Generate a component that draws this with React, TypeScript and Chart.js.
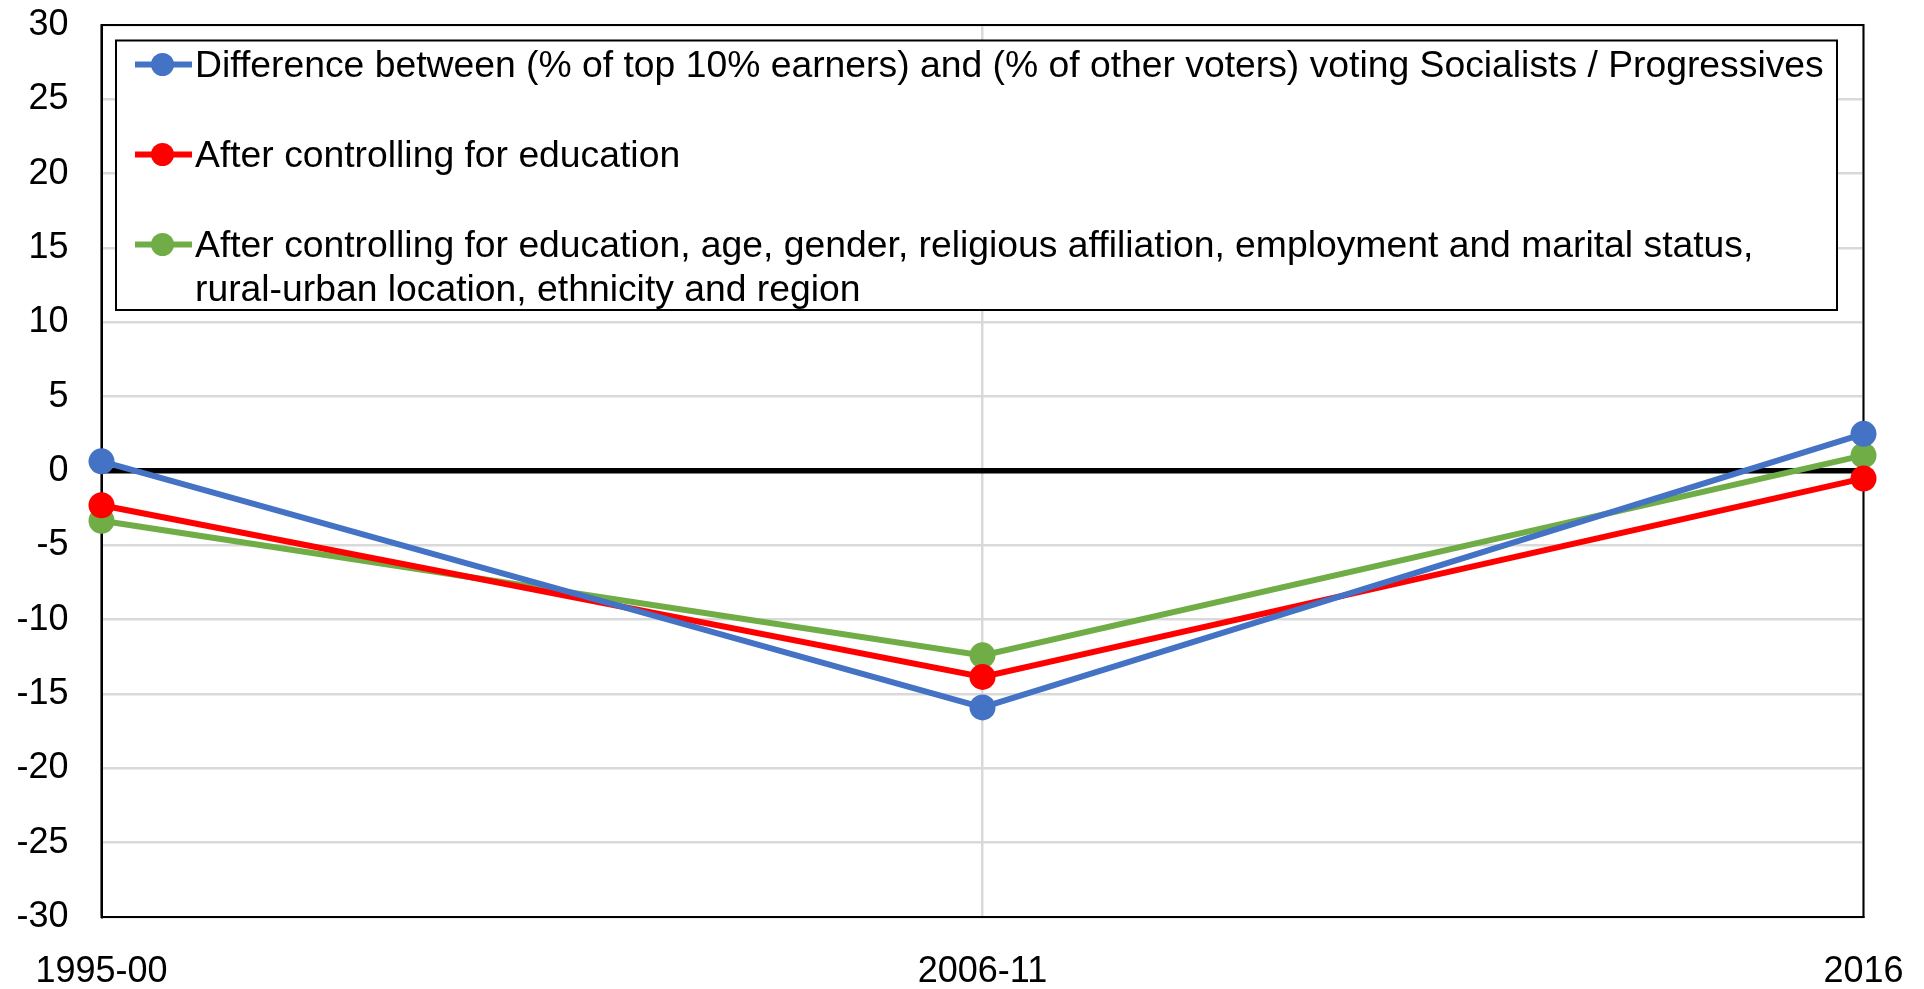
import React, { useEffect, useRef } from "react";
import { Chart, registerables } from "chart.js";

Chart.register(...registerables);

const categories = ["1995-00", "2006-11", "2016"];
const seriesNames = [
  "Difference between (% of top 10% earners) and (% of other voters) voting Socialists / Progressives",
  "After controlling for education",
  "After controlling for education, age, gender, religious affiliation, employment and marital status,\nrural-urban location, ethnicity and region",
];
const diffValues = [0.65, -15.9, 2.5];
const educationValues = [-2.3, -13.85, -0.5];
const fullControlValues = [-3.35, -12.4, 1.05];
const seriesColors = ["#4472C4", "#FF0000", "#70AD47"];
const yMin = -30;
const yMax = 30;
const yStep = 5;

const FONT = "'Liberation Sans', Arial, sans-serif";

const borderPlugin = {
  id: "plotBorder",
  beforeDatasetsDraw(chart: any) {
    const { ctx, chartArea } = chart;
    ctx.save();
    ctx.strokeStyle = "#000";
    ctx.lineWidth = 2;
    ctx.strokeRect(chartArea.left, chartArea.top, chartArea.right - chartArea.left, chartArea.bottom - chartArea.top);
    ctx.restore();
  },
};

const legendPlugin = {
  id: "boxLegend",
  afterDraw(chart: any) {
    const { ctx, chartArea } = chart;
    const x0 = chartArea.left + 14.5;
    const y0 = chartArea.top + 15.5;
    const w = 1721;
    const h = 269.5;
    ctx.save();
    ctx.fillStyle = "#fff";
    ctx.fillRect(x0, y0, w, h);
    ctx.strokeStyle = "#000";
    ctx.lineWidth = 2;
    ctx.strokeRect(x0, y0, w, h);
    ctx.font = `37.3px ${FONT}`;
    ctx.textBaseline = "middle";
    ctx.textAlign = "left";
    chart.data.datasets.forEach((ds: any, i: number) => {
      const rowY = y0 + 24 + i * 90;
      const color = ds.borderColor;
      ctx.strokeStyle = color;
      ctx.lineWidth = 6;
      ctx.beginPath();
      ctx.moveTo(x0 + 19, rowY);
      ctx.lineTo(x0 + 76, rowY);
      ctx.stroke();
      ctx.fillStyle = color;
      ctx.beginPath();
      ctx.arc(x0 + 46.5, rowY, 11.5, 0, Math.PI * 2);
      ctx.fill();
      ctx.fillStyle = "#000";
      const lines = String(ds.label).split("\n");
      lines.forEach((line: string, j: number) => {
        ctx.fillText(line, x0 + 79, rowY + 2 + j * 44);
      });
    });
    ctx.restore();
  },
};

export default function App() {
  const canvasRef = useRef<HTMLCanvasElement | null>(null);

  useEffect(() => {
    if (!canvasRef.current) return;
    const seriesValues = [diffValues, educationValues, fullControlValues];
    const chart = new Chart(canvasRef.current, {
      type: "line",
      data: {
        labels: categories,
        datasets: seriesValues.map((vals, i) => ({
          label: seriesNames[i],
          data: vals,
          borderColor: seriesColors[i],
          backgroundColor: seriesColors[i],
          borderWidth: 6,
          pointRadius: 13,
          pointHoverRadius: 13,
          pointBorderWidth: 0,
          pointBackgroundColor: seriesColors[i],
          tension: 0,
          clip: false as any,
        })),
      },
      options: {
        responsive: false,
        animation: false,
        devicePixelRatio: 1,
        layout: { padding: { left: 0, top: 25, right: 60.5, bottom: 0 } },
        plugins: {
          legend: { display: false },
          tooltip: { enabled: false },
        },
        scales: {
          x: {
            offset: false,
            grid: {
              color: "#d9d9d9",
              lineWidth: 2.5,
              drawTicks: false,
              offset: false,
            },
            border: { display: true, color: "#000", width: 2 },
            ticks: {
              color: "#000",
              font: { family: FONT, size: 36 },
              padding: 33,
              maxRotation: 0,
              autoSkip: false,
            },
            afterFit(scale: any) {
              scale.height = 72;
              scale.paddingLeft = 0;
              scale.paddingRight = 0;
            },
          },
          y: {
            min: yMin,
            max: yMax,
            grid: {
              color: (c: any) => (c.tick && c.tick.value === 0 ? "#000" : "#d9d9d9"),
              lineWidth: (c: any) => (c.tick && c.tick.value === 0 ? 5.5 : 2.5),
              drawTicks: false,
            },
            border: { display: true, color: "#000", width: 2 },
            ticks: {
              stepSize: yStep,
              color: "#000",
              font: { family: FONT, size: 36 },
              padding: 33,
            },
            afterFit(scale: any) {
              scale.width = 101.5;
              scale.paddingTop = 0;
              scale.paddingBottom = 0;
            },
          },
        },
      },
      plugins: [borderPlugin, legendPlugin],
    });
    return () => chart.destroy();
  }, []);

  return (
    <div style={{ position: "absolute", left: 0, top: 0, width: 1924, height: 989, background: "#fff" }}>
      <canvas ref={canvasRef} width={1924} height={989} style={{ display: "block", width: 1924, height: 989 }} />
    </div>
  );
}
